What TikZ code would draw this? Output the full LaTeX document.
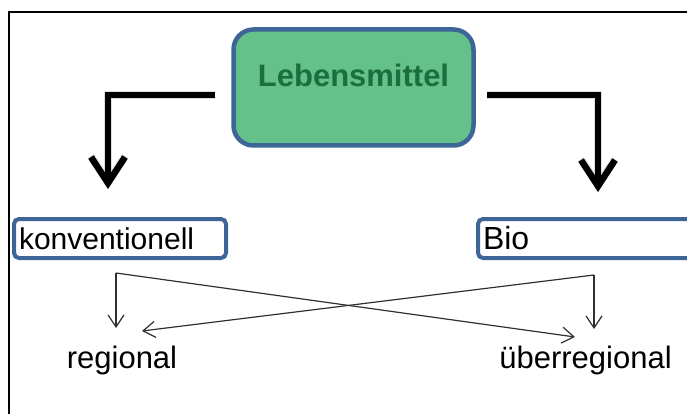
\documentclass[tikz,border=0pt]{standalone}
\usepackage{fontspec}
\setmainfont{Liberation Sans}
\usetikzlibrary{arrows.meta,calc}
\definecolor{boxgreen}{HTML}{64C18A}
\definecolor{boxblue}{HTML}{3D6595}
\definecolor{txtgreen}{HTML}{1B6E3E}
\definecolor{thinline}{HTML}{303030}
\begin{document}
\begin{tikzpicture}[x=1pt,y=-1pt,
  mainbox/.style={draw=boxblue, line width=4.5pt, fill=boxgreen, rounded corners=20pt,
    minimum width=240pt, minimum height=116pt, inner sep=0pt,
    text height=22pt, text depth=23pt,
    font=\fontsize{31pt}{36pt}\selectfont\bfseries, text=txtgreen},
  catbox/.style={draw=boxblue, line width=4pt, rounded corners=5pt, minimum height=39pt,
    inner xsep=5pt, inner ysep=0pt, align=left, anchor=north west,
    font=\fontsize{30pt}{36pt}\selectfont},
  bigarrow/.style={line width=6.5pt, -{Straight Barb[length=26pt,width=34pt]}},
  arrowshadow/.style={line width=7.5pt, draw=black!35, opacity=0.35,
    -{Straight Barb[length=26pt,width=34pt]}},
  thinarrow/.style={line width=1.2pt, draw=thinline, -{Straight Barb[length=12pt,width=16pt]}},
  lbl/.style={font=\fontsize{31pt}{36pt}\selectfont, inner sep=0pt, anchor=base}]
\useasboundingbox (0,0) rectangle (687,414);
\clip (0,0) rectangle (687,414);
% frame
\draw[line width=2.5pt] (9,12) rectangle (720,440);
% top node
\node[mainbox] (lm) at (353.5,87.5) {Lebensmittel};
% category boxes
\node[catbox, minimum width=212pt, text width=202pt] (konv) at (12,217) {konventionell};
\node[catbox, minimum width=260pt, text width=250pt,
      font=\fontsize{32pt}{36pt}\selectfont] (bio) at (476,217) {Bio};
% bottom labels
\node[lbl] (reg) at (122,368) {regional};
\node[lbl] (ueb) at (585.5,368) {überregional};
% thick arrows
\coordinate (lfoot) at (108,189);
\coordinate (rfoot) at (598,192);
\begin{scope}[shift={(1.5,2)}]
\draw[arrowshadow] ($(lm.west)+(-16,7.5)$) -| (lfoot);
\draw[arrowshadow] ($(lm.east)+(11,7.5)$) -| (rfoot);
\end{scope}
\draw[bigarrow] ($(lm.west)+(-16,7.5)$) -| (lfoot);
\draw[bigarrow] ($(lm.east)+(11,7.5)$) -| (rfoot);
% thin arrows
\coordinate (kc) at (116,273);
\coordinate (bc) at (594,275);
\coordinate (kv) at (116,328);
\coordinate (kd) at (575,337);
\coordinate (bv) at (594,329);
\coordinate (bd) at (142,331);
\draw[thinarrow] (kc) -- (kv);
\draw[thinarrow] (kc) -- (kd);
\draw[thinarrow] (bc) -- (bv);
\draw[thinarrow] (bc) -- (bd);
\end{tikzpicture}
\end{document}
